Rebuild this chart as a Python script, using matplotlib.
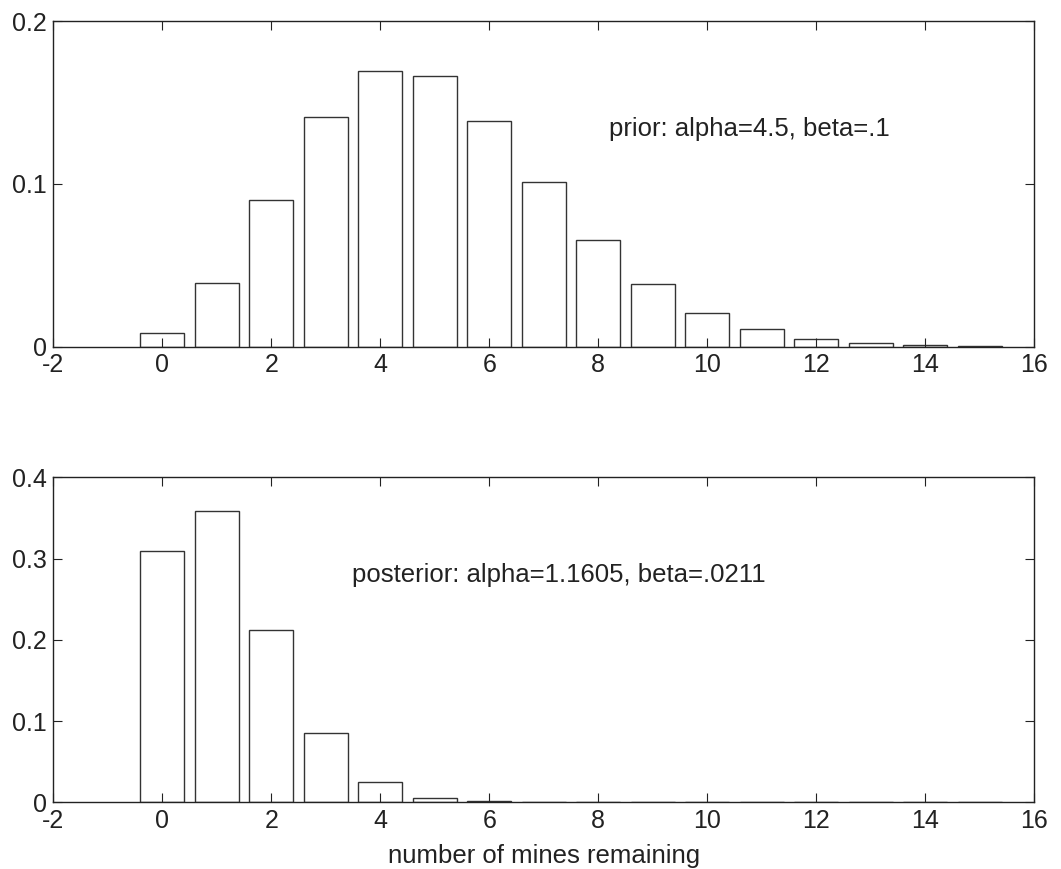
import matplotlib.pyplot as plt
import numpy as np

plt.rcParams['font.family'] = ['Liberation Sans', 'DejaVu Sans']
plt.rcParams['axes.unicode_minus'] = False

# number of mines remaining
mines = np.arange(0, 16)

# prior: alpha=4.5, beta=.1
prior = [0.0086, 0.0391, 0.0901, 0.1412, 0.1695, 0.1662, 0.1386, 0.1009,
         0.0655, 0.0385, 0.0209, 0.0107, 0.0049, 0.0023, 0.0011, 0.0005]

# posterior: alpha=1.1605, beta=.0211
posterior = [0.3097, 0.3589, 0.2121, 0.0849, 0.0254, 0.0057, 0.0013, 0.0003,
             0.0001, 0.0, 0.0, 0.0, 0.0, 0.0, 0.0, 0.0]

fig = plt.figure(figsize=(10.61, 8.69), dpi=100)
ax1 = fig.add_axes([0.0502, 0.601, 0.9246, 0.3748])
ax2 = fig.add_axes([0.0502, 0.0768, 0.9246, 0.374])


def style(ax, ymax, yticks):
    ax.set_xlim(-2, 16)
    ax.set_ylim(0, ymax)
    ax.set_xticks(range(-2, 17, 2))
    ax.set_yticks(yticks)
    ax.set_yticklabels([('%g' % t) for t in yticks])
    ax.tick_params(direction='in', length=6.5, width=0.8, top=True, right=True,
                   labelsize=18, pad=4.5, colors='#222222')
    for s in ax.spines.values():
        s.set_linewidth(1.0)
        s.set_color('#222222')


ax1.bar(mines, prior, width=0.8, color='white', edgecolor='#333333', linewidth=1.0)
style(ax1, 0.2, [0, 0.1, 0.2])
ax1.text(8.2, 0.134, 'prior: alpha=4.5, beta=.1', fontsize=18.5, va='center', ha='left',
         color='#222222')

ax2.bar(mines, posterior, width=0.8, color='white', edgecolor='#333333', linewidth=1.0)
style(ax2, 0.4, [0, 0.1, 0.2, 0.3, 0.4])
ax2.text(3.48, 0.28, 'posterior: alpha=1.1605, beta=.0211', fontsize=18.5, va='center',
         ha='left', color='#222222')
ax2.set_xlabel('number of mines remaining', fontsize=18.5, labelpad=8, color='#222222')

plt.savefig('out.png', dpi=100)
plt.close()
